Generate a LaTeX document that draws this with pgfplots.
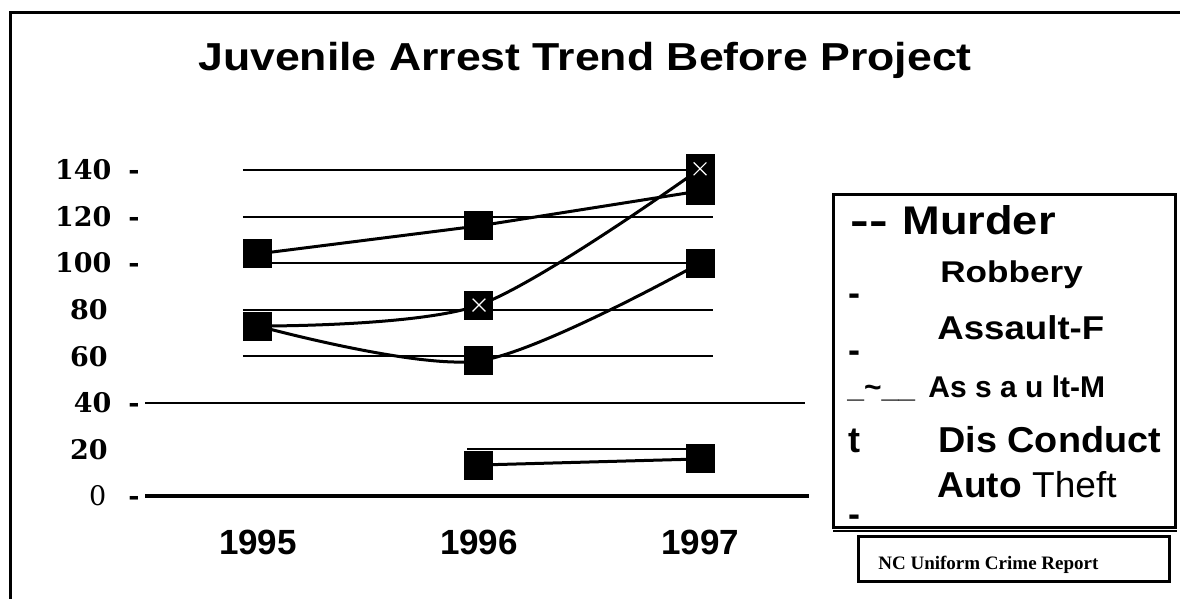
\documentclass[border=0pt]{standalone}
\usepackage{fontspec}
\setmainfont{Liberation Sans}
\newfontfamily\tickfont{DejaVu Serif}
\newfontfamily\tnr{Liberation Serif}
\usepackage{graphicx}
\usepackage{pgfplots}
\usepackage{pgfplotstable}
\pgfplotsset{compat=1.18}

\pgfplotstableread{
x y
1995 104
1996 116
1997 131
}\seriesA
\pgfplotstableread{
x y
1995 73
1996 82
1997 140.5
}\seriesB
\pgfplotstableread{
x y
1996 82
1997 140.5
}\seriesBx
\pgfplotstableread{
x y
1995 73
1996 58
1997 100
}\seriesC
\pgfplotstableread{
x y
1996 13.3
1997 15.9
}\seriesD

\begin{document}
\begin{tikzpicture}[x=0.5pt,y=0.5pt]
\useasboundingbox (0,0) rectangle (1180,599);
% outer frame (left and top)
\draw[line width=1.5pt] (10.5,0) -- (10.5,586.5) -- (1180,586.5);
% title
\node[anchor=base, inner sep=0pt] at (585,528) {\fontsize{19.5pt}{20pt}\selectfont\bfseries\scalebox{1.144}[1]{Juvenile Arrest Trend Before Project}};

\begin{axis}[
  at={(72.5pt,51.5pt)}, anchor=south west,
  scale only axis, width=332pt, height=163pt,
  xmin=1994.489, xmax=1997.493, ymin=0, ymax=140,
  clip=false,
  axis line style={draw=none},
  major tick length=0pt,
  xtick={1995,1996,1997}, xticklabels={1995,1996,1997},
  ytick={0,20,40,60,80,100,120,140},
  yticklabels={{\mdseries 0\hspace*{11pt}\bfseries-},{20\hspace*{16pt}},{40\hspace*{8.5pt}-},{60\hspace*{16pt}},{80\hspace*{16pt}},{100\hspace*{8.5pt}-},{120\hspace*{8.5pt}-},{140\hspace*{8.5pt}-}},
  xticklabel style={font=\fontsize{17.5pt}{18pt}\selectfont\bfseries, inner sep=0pt, anchor=north, yshift=-17pt},
  yticklabel style={font=\fontsize{13.5pt}{14pt}\selectfont\tickfont\bfseries, inner sep=0pt, anchor=east, xshift=-2.5pt},
]
% grid lines
\addplot[line width=1pt, forget plot] coordinates {(1994.932,140) (1997.059,140)};
\addplot[line width=1pt, forget plot] coordinates {(1994.932,120) (1997.059,120)};
\addplot[line width=1pt, forget plot] coordinates {(1994.932,100) (1997.059,100)};
\addplot[line width=1pt, forget plot] coordinates {(1994.932,80) (1997.059,80)};
\addplot[line width=1pt, forget plot] coordinates {(1994.932,60) (1997.059,60)};
\addplot[line width=1pt, forget plot] coordinates {(1994.489,40) (1997.475,40)};
\addplot[line width=1pt, forget plot] coordinates {(1995.946,20) (1997.068,20)};
\addplot[line width=1.6pt, forget plot] coordinates {(1994.489,0) (1997.493,0)};
% series
\addplot[line width=1.5pt, black, mark=square*, mark size=6.5pt, mark options={solid}] table {\seriesA};
\addplot[line width=1.5pt, black, smooth, mark=square*, mark size=6.5pt, mark options={solid}] table {\seriesC};
\addplot[line width=1.5pt, black, mark=square*, mark size=6.5pt, mark options={solid}] table {\seriesD};
\addplot[line width=1.5pt, black, smooth, mark=square*, mark size=6.5pt, mark options={solid}] table {\seriesB};
\addplot[only marks, white, mark=x, mark size=4.5pt, mark options={line width=0.6pt}] table {\seriesBx};
\end{axis}

% legend box
\draw[line width=1.5pt] (833,404) rectangle (1175,71);
\draw[line width=0.8pt] (833,68) -- (1177,68);
\node[anchor=base west, inner sep=0pt] at (850,364) {\fontsize{20pt}{20pt}\selectfont\bfseries\scalebox{1.4}[1]{-{}-}};
\node[anchor=base west, inner sep=0pt] at (902,364) {\fontsize{20pt}{20pt}\selectfont\bfseries\scalebox{1.13}[1]{Murder}};
\node[anchor=base west, inner sep=0pt] at (940,316) {\fontsize{15pt}{15pt}\selectfont\bfseries\scalebox{1.17}[1]{Robbery}};
\node[anchor=base west, inner sep=0pt] at (848,293) {\fontsize{18pt}{18pt}\selectfont\bfseries -};
\node[anchor=base west, inner sep=0pt] at (937,259) {\fontsize{16.5pt}{16.5pt}\selectfont\bfseries\scalebox{1.11}[1]{Assault-F}};
\node[anchor=base west, inner sep=0pt] at (848,236) {\fontsize{18pt}{18pt}\selectfont\bfseries -};
\node[anchor=base west, inner sep=0pt] at (847,201) {\fontsize{15pt}{15pt}\selectfont\bfseries \_\textasciitilde\_\_};
\node[anchor=base west, inner sep=0pt] at (928,201) {\fontsize{15pt}{15pt}\selectfont\bfseries As s a u lt-M};
\node[anchor=base west, inner sep=0pt] at (848,146) {\fontsize{18pt}{18pt}\selectfont\bfseries t};
\node[anchor=base west, inner sep=0pt] at (938,146) {\fontsize{18pt}{18pt}\selectfont\bfseries\scalebox{1.05}[1]{Dis Conduct}};
\node[anchor=base west, inner sep=0pt] at (937,101) {\fontsize{18pt}{18pt}\selectfont\scalebox{1.03}[1]{\textbf{Auto} Theft}};
\node[anchor=base west, inner sep=0pt] at (848,72) {\fontsize{18pt}{18pt}\selectfont\bfseries -};

% source box
\draw[line width=1.5pt] (858,62) rectangle (1169,17);
\node[anchor=base west, inner sep=0pt] at (878,29) {\fontsize{9.5pt}{10pt}\selectfont\tnr\bfseries NC Uniform Crime Report};
\end{tikzpicture}
\end{document}
